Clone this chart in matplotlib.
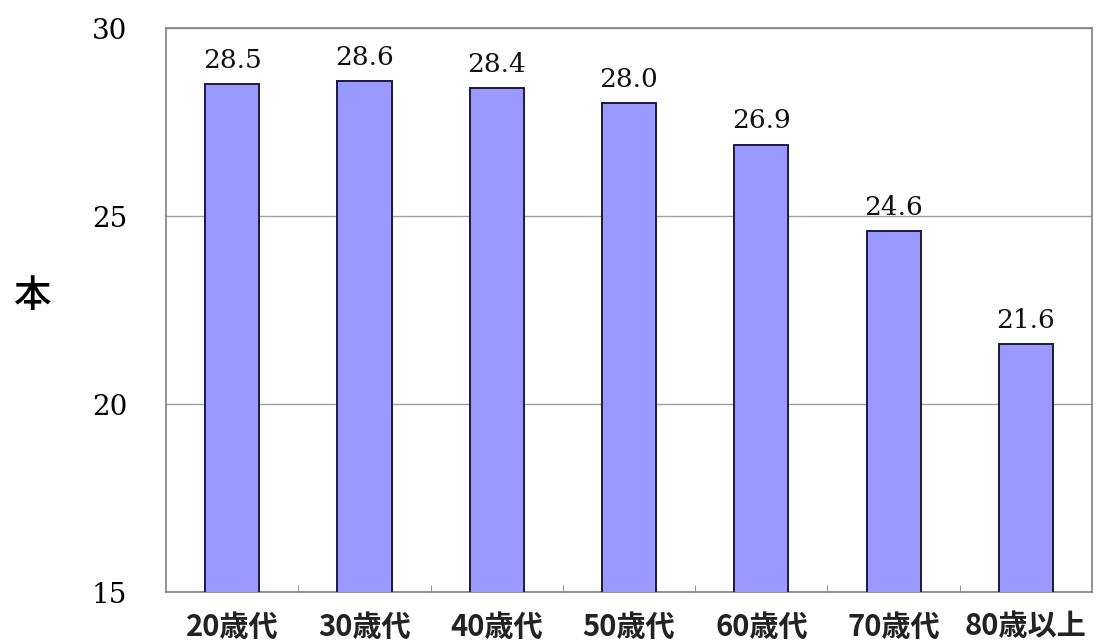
import matplotlib
matplotlib.use("Agg")
import matplotlib.pyplot as plt
import numpy as np

# データ
kategorien = ["20歳代", "30歳代", "40歳代", "50歳代", "60歳代", "70歳代", "80歳以上"]
werte = [28.5, 28.6, 28.4, 28.0, 26.9, 24.6, 21.6]
y_ticks = [15, 20, 25, 30]

fig = plt.figure(figsize=(10.98, 6.44), dpi=100)
ax = fig.add_axes([0.1512, 0.0807, 0.8434, 0.8758])

x = np.arange(len(kategorien))
ax.bar(x, werte, width=0.41, color="#9999FF", edgecolor="#1a1a40",
       linewidth=1.4, zorder=3)

# Werte über den Balken
for xi, v in zip(x, werte):
    ax.annotate(f"{v:.1f}", (xi, v), xytext=(0, 8), textcoords="offset points",
                ha="center", va="bottom", fontsize=19,
                family="DejaVu Serif", color="#111111")

ax.set_xlim(-0.5, len(kategorien) - 0.5)
ax.set_ylim(15, 30)
ax.set_yticks(y_ticks)
ax.set_yticklabels([str(t) for t in y_ticks], family="DejaVu Serif", fontsize=20)
ax.tick_params(axis="y", length=0, pad=28)

ax.set_xticks(x)
ax.set_xticklabels(kategorien, family=["Noto Sans CJK JP", "DejaVu Sans"],
                   fontsize=21, fontweight="bold", color="#222222")
ax.set_xticks(np.arange(0.5, len(kategorien) - 1, 1.0), minor=True)
ax.tick_params(axis="x", which="major", length=0, pad=14)
ax.tick_params(axis="x", which="minor", direction="in", length=5, color="#808080")

ax.grid(axis="y", color="#a0a0a0", linewidth=1.0, zorder=0)
for s in ax.spines.values():
    s.set_color("#808080")
    s.set_linewidth(1.2)

fig.text(0.029, 0.54, "本", family=["Noto Sans CJK JP", "DejaVu Sans"],
         fontsize=27, fontweight="medium", ha="center", va="center")

fig.savefig("out.png", dpi=100)
